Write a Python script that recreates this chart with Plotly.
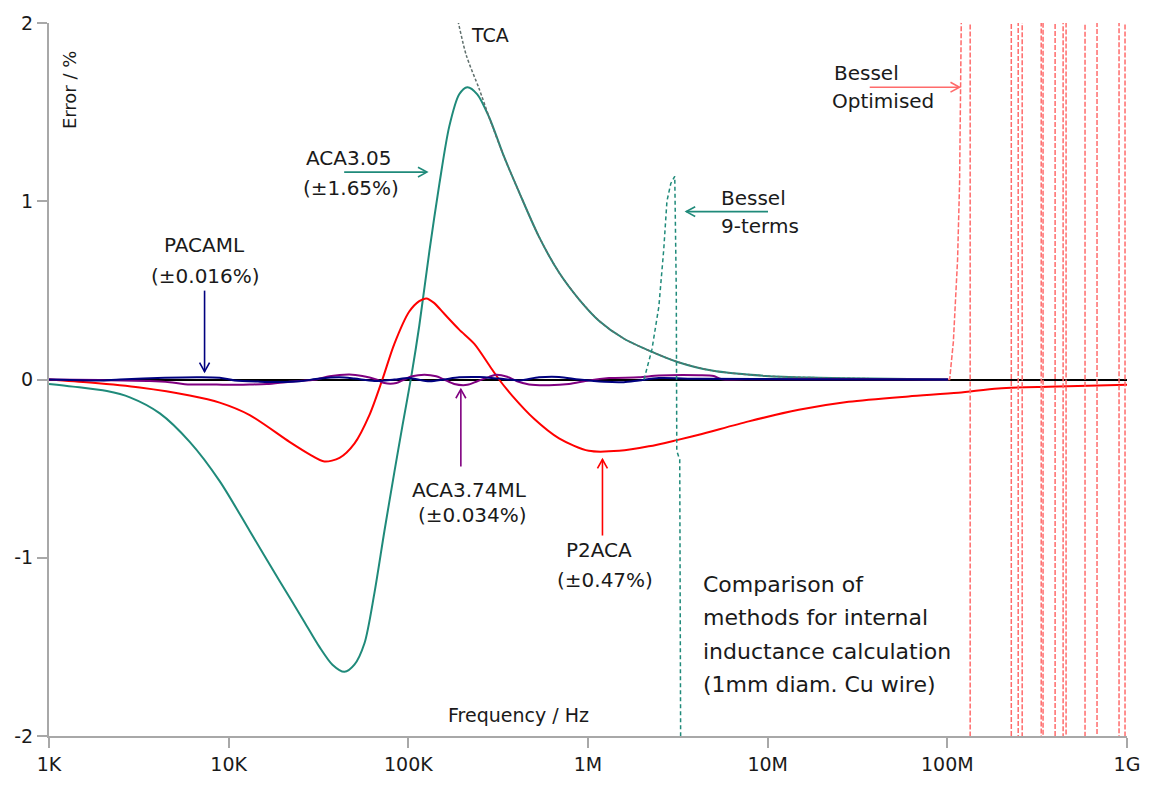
import plotly.graph_objects as go

# ---------------- data ----------------
tick_vals = [1e3, 1e4, 1e5, 1e6, 1e7, 1e8, 1e9]
tick_text = ["1K", "10K", "100K", "1M", "10M", "100M", "1G"]
y_ticks = [-2, -1, 0, 1, 2]

aca305_f = [1.0e3, 1.36e3, 2.1e3, 2.82e3, 4.14e3, 6.07e3, 8.91e3, 1.31e4, 1.92e4, 2.64e4,
            3.2e4, 3.78e4, 4.41e4, 5.01e4, 5.7e4, 6.47e4, 7.36e4, 8.36e4, 9.27e4, 1.04e5, 1.15e5,
            1.31e5, 1.49e5, 1.69e5, 1.92e5, 2.13e5, 2.42e5, 2.82e5, 3.41e5, 4.14e5, 5.34e5,
            6.9e5, 8.91e5, 1.15e6, 1.58e6, 2.27e6, 3.12e6, 4.89e6, 9.75e6, 1.92e7, 3.64e7, 1.01e8]
aca305_v = [-0.025, -0.04, -0.065, -0.1, -0.19, -0.35, -0.57, -0.85, -1.13, -1.36,
            -1.5, -1.6, -1.64, -1.6, -1.48, -1.2, -0.85, -0.52, -0.26, 0.02, 0.3,
            0.72, 1.1, 1.42, 1.6, 1.64, 1.6, 1.47, 1.25, 1.05, 0.8,
            0.6, 0.45, 0.33, 0.23, 0.155, 0.1, 0.05, 0.02, 0.01, 0.005, 0.0]

tca_f = [1.69e5, 1.85e5, 2.1e5, 2.48e5, 2.82e5, 3.41e5, 4.14e5, 5.34e5, 6.9e5, 8.91e5,
         1.15e6, 1.58e6, 2.27e6, 3.12e6, 4.89e6, 9.75e6, 1.92e7, 3.64e7]
tca_v = [2.2, 2.05, 1.82, 1.63, 1.47, 1.25, 1.05, 0.8, 0.6, 0.45,
         0.33, 0.23, 0.155, 0.1, 0.05, 0.02, 0.01, 0.005]

p2aca_f = [1e3, 1.69e3, 3.2e3, 6.07e3, 8.91e3, 1.31e4, 2.18e4, 2.82e4, 3.41e4, 4.14e4,
           5.01e4, 6.07e4, 7.17e4, 8.36e4, 1.01e5, 1.15e5, 1.26e5, 1.39e5, 1.58e5, 1.92e5,
           2.33e5, 2.82e5, 3.2e5, 3.78e5, 5.01e5, 6.9e5, 1.01e6, 1.49e6, 2.18e6, 3.12e6,
           4.14e6, 7.84e6, 1.49e7, 2.82e7, 6.07e7, 1.15e8, 1.92e8, 3.64e8, 1.0e9]
p2aca_v = [0.0, -0.017, -0.045, -0.09, -0.13, -0.2, -0.35, -0.42, -0.46, -0.44,
           -0.36, -0.2, 0.0, 0.2, 0.38, 0.44, 0.455, 0.43, 0.37, 0.28,
           0.2, 0.08, 0.0, -0.09, -0.22, -0.33, -0.4, -0.4, -0.375, -0.34,
           -0.31, -0.235, -0.17, -0.125, -0.095, -0.075, -0.05, -0.04, -0.03]

aca374_f = [1e3, 1.92e3, 3.64e3, 4.7e3, 5.7e3, 8.58e3, 1.01e4, 1.31e4, 1.63e4, 2.18e4,
            3.08e4, 3.64e4, 4.7e4, 5.55e4, 6.63e4, 7.36e4, 8.58e4, 9.5e4, 1.05e5, 1.23e5,
            1.43e5, 1.58e5, 1.8e5, 2.13e5, 2.42e5, 2.82e5, 3.08e5, 3.55e5, 4.03e5, 4.7e5,
            6.07e5, 7.84e5, 1.01e6, 1.31e6, 1.92e6, 2.48e6, 4.14e6, 5.01e6, 5.5e6, 8.91e6,
            2.82e7, 1.01e8]
aca374_v = [0.0, -0.003, -0.008, -0.015, -0.026, -0.028, -0.03, -0.028, -0.025, -0.012,
            0.0, 0.018, 0.028, 0.02, 0.0, -0.02, -0.02, 0.0, 0.018, 0.027,
            0.018, 0.0, -0.025, -0.03, -0.01, 0.015, 0.026, 0.015, -0.01, -0.028,
            -0.032, -0.025, -0.005, 0.008, 0.012, 0.022, 0.024, 0.02, 0.003, 0.002,
            0.001, 0.0]

pacaml_f = [1e3, 1.7e3, 1.92e3, 2.48e3, 4.41e3, 6.9e3, 8.91e3, 1.08e4, 1.49e4, 1.92e4,
            2.48e4, 3.2e4, 4.14e4, 5.01e4, 6.47e4, 8.36e4, 1.01e5, 1.31e5, 1.58e5, 1.92e5,
            2.48e5, 3.2e5, 4.14e5, 5.34e5, 6.9e5, 8.91e5, 1.23e6, 1.58e6, 1.92e6, 2.48e6,
            4.14e6, 1.49e7, 1.01e8]
pacaml_v = [0.0, -0.005, -0.006, 0.0, 0.01, 0.013, 0.01, -0.005, -0.012, -0.014,
            -0.01, 0.005, 0.012, 0.005, -0.008, 0.0, 0.008, -0.01, 0.0, 0.012,
            0.014, 0.005, -0.005, 0.012, 0.014, 0.0, -0.013, -0.015, -0.005, 0.008,
            0.004, 0.002, 0.0]

bessel9_f = [2.05e6, 2.27e6, 2.48e6, 2.64e6, 2.75e6, 2.89e6, 3.04e6, 3.1e6, 3.12e6, 3.24e6, 3.29e6]
bessel9_v = [0.0, 0.17, 0.41, 0.73, 1.0, 1.1, 1.14, 0.5, -0.4, -0.45, -2.5]

besselopt_f = [1.01e8, 1.03e8, 1.08e8, 1.14e8, 1.17e8, 1.21e8,
               1.34e8, 1.34e8, 2.27e8, 2.27e8, 2.48e8, 2.48e8, 2.61e8, 2.61e8,
               3.33e8, 3.33e8, 3.41e8, 3.41e8, 3.98e8, 3.98e8, 4.41e8, 4.41e8,
               4.58e8, 4.58e8, 5.84e8, 5.84e8, 6.81e8, 6.81e8, 9.03e8, 9.03e8,
               9.75e8, 9.75e8]
besselopt_v = [0.0, 0.0, 0.21, 0.67, 1.1, 2.5,
               2.5, -2.5, -2.5, 2.5, 2.5, -2.5, -2.5, 2.5,
               2.5, -2.5, -2.5, 2.5, 2.5, -2.5, -2.5, 2.5,
               2.5, -2.5, -2.5, 2.5, 2.5, -2.5, -2.5, 2.5,
               2.5, -2.5]

# ---------------- colours / style ----------------
TEAL = "#1f8a7a"
RED = "#ff0000"
LRED = "#ff6b6b"
NAVY = "#00007f"
PURPLE = "#800080"
GRAY = "#5f6f6c"
FONT = "DejaVu Sans"
TXT = "#1a1a1a"

W, H = 1152, 787
L, R, T, B = 49, 22, 21, 44
PW, PH = W - L - R, H - T - B


def px(x):
    return (x - L) / PW


def py(y):
    return (H - B - y) / PH


fig = go.Figure()


def line(xs, ys, color, width=2, dash="solid", shape="linear"):
    fig.add_trace(go.Scatter(x=xs, y=ys, mode="lines",
                             line=dict(color=color, width=width, dash=dash, shape=shape,
                                       smoothing=0.8 if shape == "spline" else None),
                             hoverinfo="skip", showlegend=False))


line(aca305_f, aca305_v, TEAL, 2, shape="spline")
line(tca_f, tca_v, GRAY, 1.5, "3px,2px", shape="spline")
line(p2aca_f, p2aca_v, RED, 2, shape="spline")
line(aca374_f, aca374_v, PURPLE, 2, shape="spline")
line(pacaml_f, pacaml_v, NAVY, 2, shape="spline")
line(bessel9_f, bessel9_v, TEAL, 1.5, "4px,3px")
line(besselopt_f, besselopt_v, LRED, 1.5, "5px,2px")

# ---------------- annotations ----------------
annotations = []


def text(t, x, y, size=20, xanchor="center", angle=0):
    annotations.append(dict(text=t, x=px(x), y=py(y), xref="paper", yref="paper",
                            xanchor=xanchor, yanchor="middle", showarrow=False,
                            textangle=angle, font=dict(family=FONT, size=size, color=TXT)))


text("Error / %", 69, 88, 18, angle=-90)
text("Frequency / Hz", 520, 722, 19)
text("TCA", 491, 33, 19)
text("ACA3.05", 350, 158)
text("(±1.65%)", 352, 188)
text("Bessel", 721, 198, xanchor="left")
text("9-terms", 721, 227, xanchor="left")
text("PACAML", 205, 246)
text("(±0.016%)", 206, 277)
text("ACA3.74ML", 471, 494)
text("(±0.034%)", 474, 519)
text("P2ACA", 601, 555)
text("(±0.47%)", 607, 585)
text("Bessel", 869, 72)
text("Optimised", 885, 100)
for i, s in enumerate(["Comparison of", "methods for internal",
                       "inductance calculation", "(1mm diam. Cu wire)"]):
    text(s, 703, 590 + i * 33.5, 22, xanchor="left")

shapes = []


def arrow(x0, y0, x1, y1, color, head=9, half=5):
    shapes.append(dict(type="line", xref="paper", yref="paper",
                       x0=px(x0), y0=py(y0), x1=px(x1), y1=py(y1),
                       line=dict(color=color, width=1.6)))
    dx, dy = x1 - x0, y1 - y0
    n = (dx * dx + dy * dy) ** 0.5
    ux, uy = dx / n, dy / n
    bx, by = x1 - ux * head, y1 - uy * head
    a = (bx - uy * half, by + ux * half)
    b = (bx + uy * half, by - ux * half)
    path = "M {} {} L {} {} L {} {}".format(px(a[0]), py(a[1]), px(x1), py(y1), px(b[0]), py(b[1]))
    shapes.append(dict(type="path", xref="paper", yref="paper", path=path,
                       line=dict(color=color, width=1.6)))


arrow(345, 172, 428, 172, TEAL)
arrow(770, 212, 688, 212, TEAL)
arrow(205, 292, 205, 374, NAVY)
arrow(462, 470, 462, 392, PURPLE)
arrow(604, 540, 604, 463, RED)
arrow(872, 86, 962, 86, LRED)

axis_gray = "#a8a8a8"
fig.update_layout(
    width=W, height=H,
    margin=dict(l=L, r=R, t=T, b=B),
    paper_bgcolor="white", plot_bgcolor="white",
    annotations=annotations, shapes=shapes,
    xaxis=dict(type="log", range=[3, 9], tickvals=tick_vals, ticktext=tick_text,
               showgrid=False, zeroline=False, showline=True, linecolor=axis_gray,
               linewidth=2, ticks="outside", ticklen=10, tickwidth=2, tickcolor=axis_gray,
               tickfont=dict(family=FONT, size=19, color=TXT)),
    yaxis=dict(range=[-2, 2], tickvals=y_ticks, ticktext=["-2", "-1", "0", "1", "2"],
               showgrid=False, zeroline=True, zerolinecolor="black", zerolinewidth=2,
               showline=True, linecolor=axis_gray, linewidth=2, ticks="outside",
               ticklen=10, tickwidth=2, tickcolor=axis_gray,
               tickfont=dict(family=FONT, size=19, color=TXT)),
)

fig.write_html("out.html")
